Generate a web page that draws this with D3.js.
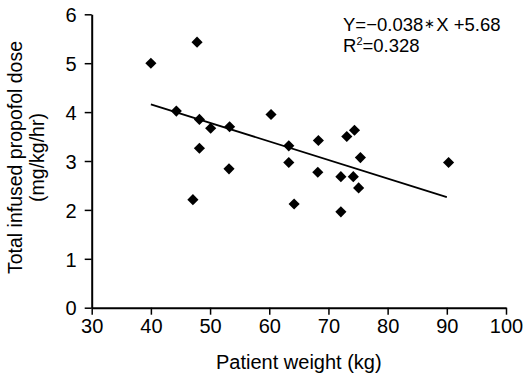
<!DOCTYPE html>
<html>
<head>
<meta charset="utf-8">
<script src="https://cdn.jsdelivr.net/npm/d3@7"></script>
<style>
  body { margin: 0; background: #fff; }
  svg { font-family: "Liberation Sans", Arial, sans-serif; }
</style>
</head>
<body>
<div id="chart"></div>
<script>
// patient weight (kg) vs total infused propofol dose (mg/kg/hr)
const weights = [40, 47.8, 44.3, 48.2, 50.1, 53.3, 48.2, 53.2, 47.1, 60.3, 63.3, 63.3,
  68.3, 68.2, 73.1, 74.4, 75.4, 72.1, 74.2, 75.1, 90.3, 64.2, 72.1];
const doses = [5.0, 5.43, 4.02, 3.85, 3.67, 3.70, 3.26, 2.84, 2.21, 3.95, 3.31, 2.97,
  3.42, 2.77, 3.50, 3.63, 3.07, 2.68, 2.68, 2.45, 2.97, 2.12, 1.96];
const xTicks = [30, 40, 50, 60, 70, 80, 90, 100];
const yTicks = [0, 1, 2, 3, 4, 5, 6];
const slope = -0.038, intercept = 5.68;
const fitRange = [40, 90];

const W = 523, H = 376;
const margin = { top: 14.3, right: 17, bottom: 68.3, left: 91.7 };
const width = W - margin.left - margin.right;
const height = H - margin.top - margin.bottom;

const svg = d3.select('#chart')
  .append('svg')
  .attr('width', W)
  .attr('height', H);

const g = svg.append('g')
  .attr('transform', `translate(${margin.left},${margin.top})`);

const x = d3.scaleLinear().domain([30, 100]).range([0, width]);
const y = d3.scaleLinear().domain([0, 6]).range([height, 0]);

const xAxis = g.append('g')
  .attr('transform', `translate(0,${height})`)
  .call(d3.axisBottom(x).tickValues(xTicks).tickFormat(d3.format('d'))
    .tickSize(7).tickSizeOuter(0).tickPadding(4));

const yAxis = g.append('g')
  .call(d3.axisLeft(y).tickValues(yTicks).tickFormat(d3.format('d'))
    .tickSize(7).tickSizeOuter(0).tickPadding(8));

[xAxis, yAxis].forEach(a => {
  a.select('.domain').attr('stroke', '#000').attr('stroke-width', 2);
  a.selectAll('.tick line').attr('stroke', '#000').attr('stroke-width', 1.5);
  a.selectAll('.tick text')
    .style('font-size', '20px')
    .style('font-family', '"Liberation Sans", Arial, sans-serif')
    .attr('fill', '#000');
});
yAxis.selectAll('.tick text').attr('dy', '0.36em');

// regression line
g.append('line')
  .attr('x1', x(fitRange[0]))
  .attr('y1', y(slope * fitRange[0] + intercept))
  .attr('x2', x(fitRange[1]))
  .attr('y2', y(slope * fitRange[1] + intercept))
  .attr('stroke', '#000')
  .attr('stroke-width', 1.8);

// diamonds
const sym = d3.symbol().type(d3.symbolSquare).size(62);
g.selectAll('.pt')
  .data(weights.map((w, i) => ({ w, d: doses[i] })))
  .enter()
  .append('path')
  .attr('class', 'pt')
  .attr('d', sym)
  .attr('transform', d => `translate(${x(d.w)},${y(d.d)}) rotate(45)`)
  .attr('fill', '#000');

// equation text
const eq = svg.append('text')
  .attr('x', 343)
  .attr('y', 30.5)
  .style('font-size', '18.5px');
eq.append('tspan').text('Y=−0.038');
eq.append('tspan').attr('dx', 1).attr('dy', -3).style('font-size', '13px').text('∗');
eq.append('tspan').attr('dx', 1).attr('dy', 3).text('X +5.68');

const r2 = svg.append('text')
  .attr('x', 343)
  .attr('y', 51.5)
  .style('font-size', '18.5px');
r2.append('tspan').text('R');
r2.append('tspan').attr('dy', -7).style('font-size', '11px').text('2');
r2.append('tspan').attr('dy', 7).text('=0.328');

// axis titles
svg.append('text')
  .attr('x', margin.left + width / 2)
  .attr('y', 369)
  .attr('text-anchor', 'middle')
  .style('font-size', '20px')
  .text('Patient weight (kg)');

svg.append('text')
  .attr('transform', 'translate(22,157.5) rotate(-90)')
  .attr('text-anchor', 'middle')
  .style('font-size', '19.5px')
  .text('Total infused propofol dose');

svg.append('text')
  .attr('transform', 'translate(44,157.5) rotate(-90)')
  .attr('text-anchor', 'middle')
  .style('font-size', '19.5px')
  .text('(mg/kg/hr)');
</script>
</body>
</html>
